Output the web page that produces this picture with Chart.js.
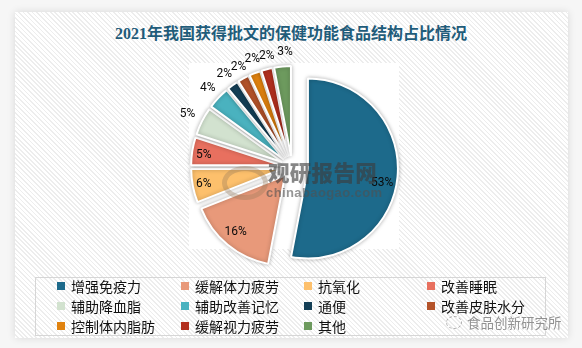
<!DOCTYPE html>
<html><head><meta charset="utf-8">
<script src="https://cdn.jsdelivr.net/npm/chart.js@4.4.0/dist/chart.umd.min.js"></script>
<style>
html,body{margin:0;padding:0;}
body{width:582px;height:348px;background:#f6f6f6;position:relative;overflow:hidden;font-family:"Noto Sans CJK SC",sans-serif;}
#card{position:absolute;left:15px;top:12px;width:553px;height:326px;background:repeating-linear-gradient(45deg,#ffffff 0px,#ffffff 2px,#ededed 2px,#ededed 3.2px);box-shadow:0 0 8px rgba(0,0,0,0.12);}
#plotbg{position:absolute;left:189px;top:63px;width:210px;height:186px;background:#fff;}
#title{position:absolute;left:0;top:23px;width:582px;text-align:center;font-weight:bold;font-size:16px;line-height:22px;font-family:"Liberation Serif","Noto Sans CJK SC",serif;color:#1f5c7a;}
#chart{position:absolute;left:0;top:0;}
#legend{position:absolute;left:35px;top:277px;width:511px;height:59px;border:1px solid #d6d6d6;box-sizing:border-box;}
.li{position:absolute;height:18px;line-height:18px;font-size:14px;color:#111;white-space:nowrap;}
.li i{position:absolute;left:0;top:5px;width:8px;height:8px;}
.li span{position:absolute;left:14px;top:0;}
#wm1{position:absolute;left:268px;top:159px;font-weight:900;font-size:21.5px;line-height:26px;color:rgba(60,60,60,0.62);letter-spacing:0.3px;}
#wm2{position:absolute;left:266px;top:185px;font-size:13px;line-height:16px;font-family:"Liberation Sans",sans-serif;font-weight:bold;color:rgba(80,80,80,0.6);letter-spacing:0.4px;}
#wmlogo{position:absolute;left:222px;top:166px;width:36px;height:24px;border-radius:50%;border:5px solid rgba(150,120,90,0.35);}
#wx{position:absolute;left:467px;top:313px;font-size:13.5px;line-height:18px;color:rgba(110,110,110,0.75);text-shadow:0 0 2px #fff;}
#wxicon{position:absolute;left:446px;top:316px;width:14px;height:11px;border:1px dashed rgba(120,120,120,0.6);border-radius:50%;}
</style>
</head><body>
<div id="card"></div>
<div id="plotbg"></div>
<div id="title">2021年我国获得批文的保健功能食品结构占比情况</div>
<canvas id="chart" width="582" height="348"></canvas>
<div id="wmlogo"></div>
<div id="wm1">观研报告网</div>
<div id="wm2">chinabaogao.com</div>
<div id="legend"></div>
<div id="wxicon"></div>
<div id="wx">食品创新研究所</div>
<script>
const categories = ['增强免疫力','缓解体力疲劳','抗氧化','改善睡眠','辅助降血脂','辅助改善记忆','通便','改善皮肤水分','控制体内脂肪','缓解视力疲劳','其他'];
const shares = [53,16,6,5,5,4,2,2,2,2,3];
const colors = ['#1d6a8b','#e8997a','#fdc06c','#e8705f','#d2e2cf','#4ab2bf','#143f56','#b4532a','#e0820f','#b2301f','#6d9a5e'];

// styling (not data): explode distance, label radius factor, label angular position inside slice
const EXPLODE = [16,11,11,11,11,11,11,11,11,11,11];
const LABEL_R = [0.84,0.83,0.875,0.866,1.18,1.16,1.16,1.14,1.156,1.14,1.156];
const LABEL_F = [0.53,0.53,0.5,0.42,0.5,0.5,0.5,0.6,0.72,0.75,0.7];

const explodePlugin = {
  id:'explode',
  beforeDatasetDraw(chart,args){
    const ctx = chart.ctx;
    args.meta.data.forEach((arc,i)=>{
      const mid=(arc.startAngle+arc.endAngle)/2, d=EXPLODE[i];
      ctx.save();
      ctx.shadowColor='rgba(0,0,0,0.28)';
      ctx.shadowBlur=4;
      ctx.translate(Math.cos(mid)*d, Math.sin(mid)*d);
      arc.draw(ctx);
      ctx.restore();
    });
    return false;
  }
};
const labelPlugin = {
  id:'sliceLabels',
  afterDatasetsDraw(chart){
    const meta = chart.getDatasetMeta(0), ctx = chart.ctx;
    ctx.save();
    ctx.font = '12px Roboto, "Liberation Sans", sans-serif';
    ctx.fillStyle = '#0a0a0a';
    ctx.textAlign='center'; ctx.textBaseline='middle';
    meta.data.forEach((arc,i)=>{
      const mid=(arc.startAngle+arc.endAngle)/2, d=EXPLODE[i];
      const cx=arc.x+Math.cos(mid)*d, cy=arc.y+Math.sin(mid)*d;
      const a=arc.startAngle+(arc.endAngle-arc.startAngle)*LABEL_F[i];
      const r=arc.outerRadius*LABEL_R[i];
      ctx.fillText(shares[i]+'%', cx+Math.cos(a)*r, cy+Math.sin(a)*r);
    });
    ctx.restore();
  }
};

const chart = new Chart(document.getElementById('chart'),{
  type:'pie',
  data:{labels:categories,datasets:[{data:shares,backgroundColor:colors,borderColor:'#ffffff',borderWidth:2,radius:90}]},
  options:{
    responsive:false,animation:false,devicePixelRatio:1,
    layout:{padding:{left:2,right:0,top:0,bottom:14}},
    plugins:{legend:{display:false},tooltip:{enabled:false},title:{display:false}},
    events:[]
  },
  plugins:[explodePlugin,labelPlugin]
});

// HTML legend built from chart data
const colX=[21,145,268,391], rowY=[0,20,40];
const lg=document.getElementById('legend');
chart.data.labels.forEach((lab,i)=>{
  const el=document.createElement('div');
  el.className='li';
  el.style.left=colX[i%4]+'px';
  el.style.top=(rowY[Math.floor(i/4)]-1)+'px';
  el.innerHTML='<i style="background:'+chart.data.datasets[0].backgroundColor[i]+'"></i><span>'+lab+'</span>';
  lg.appendChild(el);
});
</script>
</body></html>
